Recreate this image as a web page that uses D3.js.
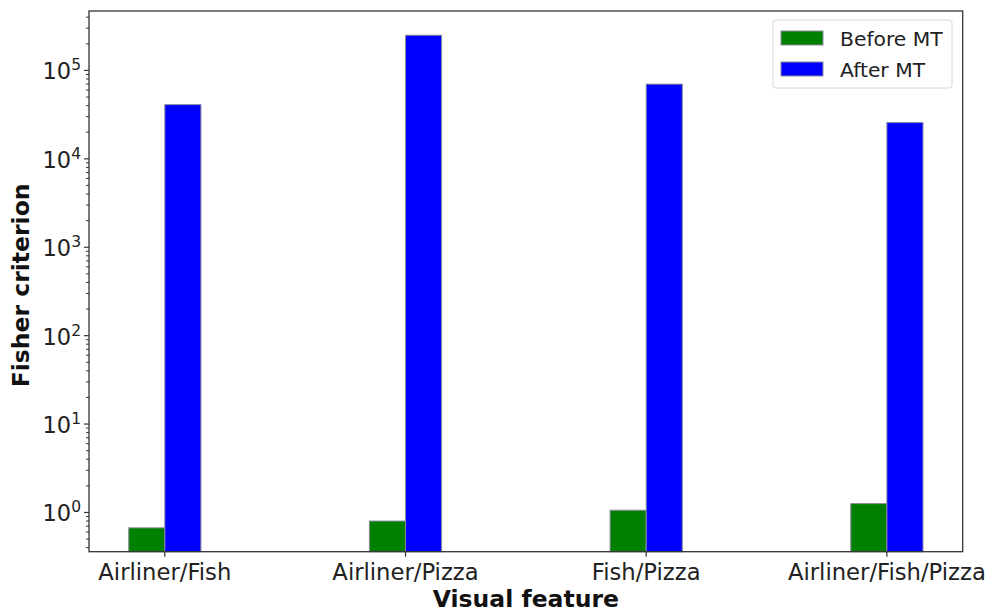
<!DOCTYPE html>
<html><head><meta charset="utf-8">
<script src="https://cdn.jsdelivr.net/npm/d3@7/dist/d3.min.js"></script>
<style>body{margin:0;background:#fff;font-family:"DejaVu Sans",sans-serif;}</style>
</head><body><svg id="c" width="993" height="614"></svg>
<script>
const categories = ["Airliner/Fish", "Airliner/Pizza", "Fish/Pizza", "Airliner/Fish/Pizza"];
const beforeMT = [0.67, 0.80, 1.06, 1.26];
const afterMT = [41000, 250000, 70000, 25700];
const seriesNames = ["Before MT", "After MT"];
const yTickExps = [0, 1, 2, 3, 4, 5];

const W = 993, H = 614;
const L = 89, R = 962.7, T = 11, B = 551.7;
const svg = d3.select("#c");
const font = "DejaVu Sans, sans-serif";

const x = d3.scaleLinear().domain([-0.315, categories.length - 1 + 0.315]).range([L, R]);
const y = d3.scaleLog().domain([0.36, 4.7e5]).range([B, T]);
const bw = 0.15;

// bars
const colors = ["#008000", "#0000ff"];
[beforeMT, afterMT].forEach((vals, s) => {
  svg.append("g").selectAll("rect").data(vals).join("rect")
    .attr("x", (d, i) => x(i + (s === 0 ? -bw : 0)))
    .attr("width", x(bw) - x(0))
    .attr("y", d => y(d))
    .attr("height", d => B - y(d))
    .attr("fill", colors[s])
    .attr("stroke", "#8a8a9a").attr("stroke-width", 1);
});

// y minor ticks
const [lo, hi] = y.domain();
const minor = [];
for (let e = -1; e <= 5; e++) for (let m = 2; m <= 9; m++) { const v = m * Math.pow(10, e); if (v >= lo && v <= hi) minor.push(v); }
svg.append("g").selectAll("line").data(minor).join("line")
  .attr("x1", L - 3).attr("x2", L).attr("y1", d => y(d)).attr("y2", d => y(d))
  .attr("stroke", "#333").attr("stroke-width", 1);

// y major ticks
const yt = svg.append("g");
yTickExps.forEach(e => {
  const v = Math.pow(10, e), yy = y(v);
  yt.append("line").attr("x1", L - 5).attr("x2", L).attr("y1", yy).attr("y2", yy).attr("stroke", "#333").attr("stroke-width", 1.2);
  const t = yt.append("text").attr("x", L - 8).attr("y", yy + 9).attr("text-anchor", "end")
    .attr("font-family", font).attr("font-size", 22.5).attr("fill", "#222");
  t.append("tspan").text("10");
  t.append("tspan").attr("dy", -9).attr("font-size", 15.5).text(String(e));
});

// x ticks
const xt = svg.append("g");
categories.forEach((c, i) => {
  xt.append("line").attr("x1", x(i)).attr("x2", x(i)).attr("y1", B).attr("y2", B + 5).attr("stroke", "#333").attr("stroke-width", 1.2);
  xt.append("text").attr("x", x(i)).attr("y", 580).attr("text-anchor", "middle")
    .attr("font-family", font).attr("font-size", 22.7).attr("fill", "#222").text(c);
});

// frame
svg.append("rect").attr("x", L).attr("y", T).attr("width", R - L).attr("height", B - T)
  .attr("fill", "none").attr("stroke", "#333").attr("stroke-width", 1.3);

// axis titles
svg.append("text").attr("x", (L + R) / 2).attr("y", 607).attr("text-anchor", "middle")
  .attr("font-family", font).attr("font-weight", "bold").attr("font-size", 23.5).attr("fill", "#111").text("Visual feature");
svg.append("text").attr("transform", `translate(29,${(T + B) / 2 + 4}) rotate(-90)`).attr("text-anchor", "middle")
  .attr("font-family", font).attr("font-weight", "bold").attr("font-size", 23.5).attr("fill", "#111").text("Fisher criterion");

// legend
const lg = svg.append("g");
lg.append("rect").attr("x", 773).attr("y", 20).attr("width", 179).attr("height", 68).attr("rx", 3)
  .attr("fill", "#fff").attr("fill-opacity", 0.8).attr("stroke", "#d6d6d6").attr("stroke-width", 1);
seriesNames.forEach((n, i) => {
  lg.append("rect").attr("x", 781).attr("y", 31 + i * 31).attr("width", 42).attr("height", 14)
    .attr("fill", colors[i]).attr("stroke", "#8a8a9a").attr("stroke-width", 1);
  lg.append("text").attr("x", 840).attr("y", 45.5 + i * 31).attr("font-family", font).attr("font-size", 20.3)
    .attr("fill", "#222").text(n);
});
</script></body></html>
